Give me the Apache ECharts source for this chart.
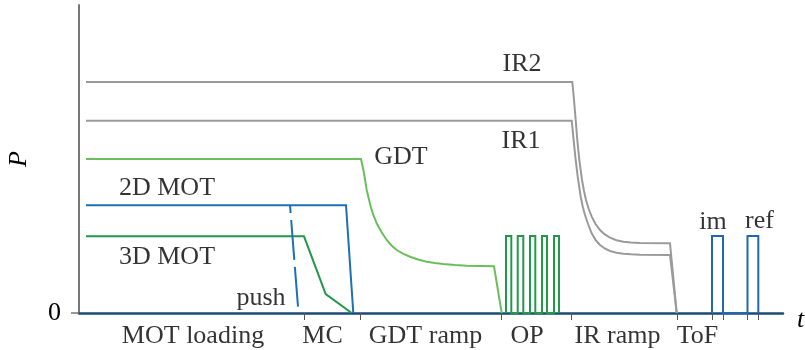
<!DOCTYPE html>
<html>
<head>
<meta charset="utf-8">
<script src="https://cdn.jsdelivr.net/npm/echarts@6/dist/echarts.min.js"></script>
<style>
  html, body { margin: 0; padding: 0; background: #fff; }
  #chart { width: 805px; height: 350px; }
</style>
</head>
<body>
<div id="chart"></div>
<script>
// Timing sequence of the laser powers P over one experimental cycle (arbitrary units).

// Phase boundaries on the time axis (tick positions)
const phaseTicks = [225, 281.7, 422, 492.7, 598.3, 633, 644, 668.5, 679.3];
const phaseNames = ['MOT loading', 'MC', 'GDT ramp', 'OP', 'IR ramp', 'ToF'];
const phaseCenters = [114, 243.5, 346.5, 448, 538.5, 618.5];

// Channel waveforms as [t, P] points
const ir2 = [[7, 231], [493.3, 231], [494.2, 222], [495, 213], [496.7, 193], [498.3, 173],
  [500.3, 153], [503, 133], [505, 122], [507, 113], [509.7, 104], [512.7, 96.3],
  [516.5, 89], [521, 83], [525.8, 78.6], [531, 75.3], [537.5, 72.8], [544.3, 71.3],
  [552, 70.5], [561, 70], [591, 69.7], [597.7, 0]];
const ir1 = [[7, 192.3], [492.7, 192.3], [493.5, 184.5], [494.3, 176.3], [496.3, 156.3],
  [498.7, 136.3], [501.7, 116.3], [503.7, 106.5], [506, 98], [509.2, 88.5], [512.7, 79.7],
  [516.5, 73.2], [521, 68], [525.8, 64.5], [531, 62], [537.5, 60.3], [544.3, 59.3],
  [552, 58.7], [561, 58.3], [591, 58], [597.7, 0]];
const gdt = [[7, 154], [282, 154], [283.5, 147], [285, 139.7], [287.7, 123], [291.7, 106.3],
  [294.5, 97.5], [297.7, 89.7], [302.5, 81], [307.7, 73], [312.5, 67.5], [317.7, 63],
  [324, 59.3], [331, 56.3], [339, 53.5], [347.7, 51.3], [356, 50], [364.3, 49],
  [376, 47.9], [387.7, 47.3], [415, 46.7], [422.7, 0]];
const mot2d = [[7, 107.7], [267, 107.7], [274.3, 0]];
const mot3d = [[7, 76.7], [225, 76.7], [246.7, 19], [272.7, 0]];
const push = [[211, 108], [219.5, 0]];
const opPulses = [[427, 432.3], [438.7, 444.3], [451, 456.3], [463, 468], [475, 480]];
const opLevel = 77;
const imagePulses = [[633, 644], [668.5, 679.3]];
const imageLevel = 77;

// Text annotations next to the waveforms
const noteText = ['2D MOT', '3D MOT', 'GDT', 'IR2', 'IR1', 'im', 'ref', 'push'];
const noteX = [88, 88, 322, 443, 442, 634, 680.5, 182];
const noteY = [125, 56, 156, 249, 172, 91, 92, 15];

// Build rectangular pulse trains sitting on the baseline
function pulseTrain(edges, level) {
  const pts = [];
  edges.forEach(function (e) {
    pts.push([e[0], 0], [e[0], level], [e[1], level], [e[1], 0]);
  });
  return pts;
}

const FONT = 'Liberation Serif';
const FS = 26;
const INK = '#000';

function wave(name, data, color, extra) {
  return Object.assign({
    name: name,
    type: 'line',
    data: data,
    showSymbol: false,
    symbol: 'none',
    silent: true,
    z: 3,
    lineStyle: { color: color, width: 2, cap: 'butt', join: 'miter' }
  }, extra || {});
}

const chart = echarts.init(document.getElementById('chart'), null, { renderer: 'canvas' });

chart.setOption({
  animation: false,
  backgroundColor: '#ffffff',
  grid: { left: 79, right: 22, top: 5, bottom: 37, containLabel: false, outerBoundsMode: 'none' },
  xAxis: {
    type: 'value',
    min: 0,
    max: 704,
    name: 't',
    nameLocation: 'end',
    nameGap: 14,
    nameTextStyle: { fontFamily: FONT, fontStyle: 'italic', fontSize: FS, color: INK, verticalAlign: 'top', lineHeight: 14 },
    axisLine: { show: true, onZero: false, lineStyle: { color: '#1b4a73', width: 2.5 } },
    axisTick: { show: true, inside: false, length: 7, customValues: phaseTicks, lineStyle: { color: '#555', width: 1 } },
    axisLabel: { show: false },
    splitLine: { show: false }
  },
  yAxis: {
    type: 'value',
    min: 0,
    max: 308,
    name: 'P',
    nameLocation: 'middle',
    nameGap: 47,
    nameRotate: 90,
    nameTextStyle: { fontFamily: FONT, fontStyle: 'italic', fontSize: FS, color: INK },
    axisLine: { show: true, lineStyle: { color: '#777', width: 2 } },
    axisTick: { show: true, length: 8, customValues: [0], lineStyle: { color: '#777', width: 1.5 } },
    axisLabel: { show: true, customValues: [0], margin: 18, fontFamily: FONT, fontSize: FS, color: INK },
    splitLine: { show: false }
  },
  series: [
    wave('IR2', ir2, '#9a9a9a'),
    wave('IR1', ir1, '#9a9a9a'),
    wave('GDT', gdt, '#6abf5c'),
    wave('3D MOT', mot3d, '#22984b'),
    wave('2D MOT', mot2d, '#1d70b3'),
    wave('push', push, '#1d70b3', { lineStyle: { color: '#1d70b3', width: 2, type: [40, 7], dashOffset: 32 } }),
    wave('OP', pulseTrain(opPulses, opLevel), '#22984b'),
    wave('imaging', pulseTrain(imagePulses, imageLevel), '#2466b4'),
    {
      name: 'notes',
      type: 'scatter',
      silent: true,
      symbolSize: 0.1,
      itemStyle: { color: 'rgba(0,0,0,0)' },
      data: noteText.map(function (t, i) { return { value: [noteX[i], noteY[i]], text: t }; }),
      label: {
        show: true,
        position: 'inside',
        align: 'center',
        verticalAlign: 'middle',
        formatter: function (p) { return p.data.text; },
        fontFamily: FONT,
        fontSize: FS,
        color: INK
      },
      z: 5
    },
    {
      name: 'phases',
      type: 'scatter',
      silent: true,
      symbolSize: 0.1,
      itemStyle: { color: 'rgba(0,0,0,0)' },
      data: phaseNames.map(function (t, i) { return { value: [phaseCenters[i], 0], text: t }; }),
      label: {
        show: true,
        position: 'inside',
        align: 'center',
        verticalAlign: 'middle',
        offset: [0, 23],
        formatter: function (p) { return p.data.text; },
        fontFamily: FONT,
        fontSize: FS,
        color: INK
      },
      z: 5
    }
  ]
});
</script>
</body>
</html>
